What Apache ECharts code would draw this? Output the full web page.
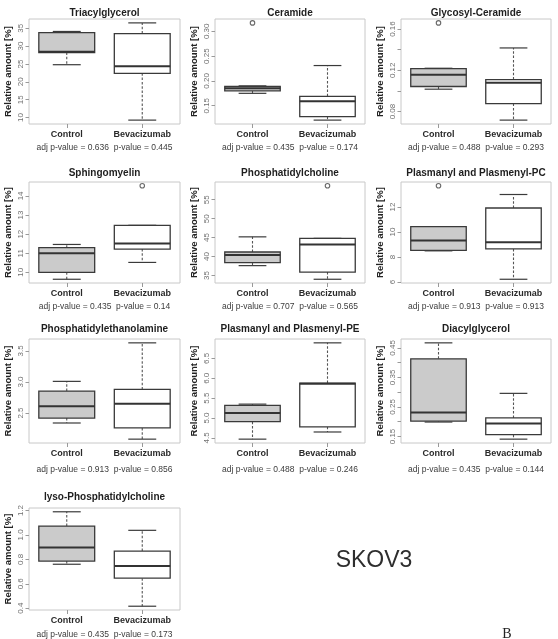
<!DOCTYPE html>
<html>
<head>
<meta charset="utf-8">
<script src="https://cdn.jsdelivr.net/npm/echarts@6/dist/echarts.min.js"></script>
<style>
html,body{margin:0;padding:0;background:#fff;}
#c{width:558px;height:639px;}
</style>
</head>
<body>
<div id="c"></div>
<script>
// ---------------- DATA ----------------
const titles = ['Triacylglycerol','Ceramide','Glycosyl-Ceramide','Sphingomyelin','Phosphatidylcholine','Plasmanyl and Plasmenyl-PC','Phosphatidylethanolamine','Plasmanyl and Plasmenyl-PE','Diacylglycerol','lyso-Phosphatidylcholine'];
const categories = ['Control','Bevacizumab'];
// [min, Q1, median, Q3, max]
const controlStats = [
  [24.8, 28.2, 28.4, 33.8, 34.1],
  [0.175, 0.180, 0.185, 0.189, 0.190],
  [0.1017, 0.1043, 0.1157, 0.1217, 0.122],
  [9.64, 10.0, 11.0, 11.29, 11.46],
  [37.6, 38.4, 40.4, 41.2, 45.2],
  [8.5, 8.53, 9.33, 10.43, 10.43],
  [2.34, 2.42, 2.61, 2.853, 3.01],
  [4.47, 4.91, 5.13, 5.32, 5.35],
  [0.199, 0.202, 0.231, 0.413, 0.467],
  [0.76, 0.786, 0.897, 1.073, 1.19]
];
const bevStats = [
  [9.3, 22.4, 24.4, 33.5, 36.5],
  [0.121, 0.128, 0.159, 0.169, 0.231],
  [0.0717, 0.0877, 0.108, 0.111, 0.1417],
  [10.52, 11.22, 11.51, 12.46, 12.46],
  [34.0, 35.9, 43.2, 44.8, 44.8],
  [6.23, 8.65, 9.18, 11.92, 13.0],
  [2.08, 2.26, 2.65, 2.88, 3.63],
  [4.65, 4.78, 5.86, 5.88, 6.89],
  [0.141, 0.156, 0.194, 0.213, 0.296],
  [0.416, 0.646, 0.746, 0.868, 1.038]
];
const controlOutliers = [[], [0.317], [0.166], [], [], [13.7], [], [], [], []];
const bevOutliers = [[], [], [], [14.53], [58.7], [], [], [], [], []];
const tickValues = [
  [10, 15, 20, 25, 30, 35],
  [0.15, 0.20, 0.25, 0.30],
  [0.08, 0.10, 0.12, 0.14, 0.16],
  [10, 11, 12, 13, 14],
  [35, 40, 45, 50, 55],
  [6, 8, 10, 12],
  [2.5, 3.0, 3.5],
  [4.5, 5.0, 5.5, 6.0, 6.5, 7.0],
  [0.15, 0.20, 0.25, 0.30, 0.35, 0.40, 0.45],
  [0.4, 0.6, 0.8, 1.0, 1.2]
];
const tickLabels = [
  ['10','15','20','25','30','35'],
  ['0.15','0.20','0.25','0.30'],
  ['0.08','0.12','0.16'],
  ['10','11','12','13','14'],
  ['35','40','45','50','55'],
  ['6','8','10','12'],
  ['2.5','3.0','3.5'],
  ['4.5','5.0','5.5','6.0','6.5','7.0'],
  ['0.15','0.25','0.35','0.45'],
  ['0.4','0.6','0.8','1.0','1.2']
];
const adjP = ['0.636','0.435','0.488','0.435','0.707','0.913','0.913','0.488','0.435','0.435'];
const pVal = ['0.445','0.174','0.293','0.14','0.565','0.913','0.856','0.246','0.144','0.173'];
const yAxisName = 'Relative amount [%]';
const cellLabel = 'SKOV3';
const panelLetter = 'B';

// ---------------- LAYOUT ----------------
const colLeft = [29, 215, 401];
const colWidth = [151, 150, 150];
const rowTop = [19, 182, 339, 508];
const rowHeight = [105, 101, 104, 102];
const rowTitleY = [13, 173, 329.5, 497];
const rowPY = [148, 307, 469.5, 635];
const FONT = '"Liberation Sans", Arial, Helvetica, sans-serif';

const chart = echarts.init(document.getElementById('c'), null, {renderer: 'canvas'});

function renderBox(params, api) {
  const idx = api.value(0);
  const mn = api.value(1), q1 = api.value(2), md = api.value(3), q3 = api.value(4), mx = api.value(5);
  const band = api.size([1, 0])[0];
  const bw = band * 0.74;
  const x = api.coord([idx, md])[0];
  const yMn = api.coord([idx, mn])[1];
  const yQ1 = api.coord([idx, q1])[1];
  const yMd = api.coord([idx, md])[1];
  const yQ3 = api.coord([idx, q3])[1];
  const yMx = api.coord([idx, mx])[1];
  const fill = idx === 0 ? '#cbcbcb' : '#ffffff';
  const stroke = '#3a3a3a';
  const sw = bw * 0.25;
  const children = [];
  if (Math.abs(yMn - yQ1) > 0.5) {
    children.push({type: 'line', shape: {x1: x, y1: yQ1, x2: x, y2: yMn}, style: {stroke: '#555', lineWidth: 1.1, lineDash: [2.5, 1.8]}});
  }
  if (Math.abs(yMx - yQ3) > 0.5) {
    children.push({type: 'line', shape: {x1: x, y1: yQ3, x2: x, y2: yMx}, style: {stroke: '#555', lineWidth: 1.1, lineDash: [2.5, 1.8]}});
  }
  children.push({type: 'line', shape: {x1: x - sw, y1: yMn, x2: x + sw, y2: yMn}, style: {stroke: stroke, lineWidth: 1.2}});
  children.push({type: 'line', shape: {x1: x - sw, y1: yMx, x2: x + sw, y2: yMx}, style: {stroke: stroke, lineWidth: 1.2}});
  children.push({type: 'rect', shape: {x: x - bw / 2, y: yQ3, width: bw, height: yQ1 - yQ3}, style: {fill: fill, stroke: stroke, lineWidth: 1.3}});
  children.push({type: 'line', shape: {x1: x - bw / 2, y1: yMd, x2: x + bw / 2, y2: yMd}, style: {stroke: '#333', lineWidth: 2}});
  return {type: 'group', children: children};
}

const grids = [], xAxes = [], yAxes = [], series = [], graphics = [];
for (let i = 0; i < titles.length; i++) {
  const col = i % 3, row = Math.floor(i / 3);
  const left = colLeft[col], top = rowTop[row], w = colWidth[col], h = rowHeight[row];
  grids.push({left: left, top: top, width: w, height: h, show: true, borderColor: '#c8c8c8', borderWidth: 1, backgroundColor: 'transparent', containLabel: false});
  xAxes.push({
    type: 'category', gridIndex: i, data: categories, boundaryGap: true,
    axisLine: {show: false},
    axisTick: {show: true, alignWithLabel: true, length: 4, lineStyle: {color: '#999'}},
    axisLabel: {show: true, margin: 6, fontFamily: FONT, fontSize: 9, fontWeight: 'bold', color: '#2a2a2a'},
    splitLine: {show: false}
  });
  const all = controlStats[i].concat(bevStats[i], controlOutliers[i], bevOutliers[i]);
  const dmin = Math.min.apply(null, all), dmax = Math.max.apply(null, all);
  const ext = (dmax - dmin) * 0.04;
  const labelVals = tickLabels[i].map(Number);
  yAxes.push({
    type: 'value', gridIndex: i, min: dmin - ext, max: dmax + ext,
    name: yAxisName, nameLocation: 'middle', nameGap: 16,
    nameTextStyle: {fontFamily: FONT, fontSize: 9.5, fontWeight: 'bold', color: '#222'},
    axisLine: {show: false},
    axisTick: {show: true, length: 3.5, lineStyle: {color: '#9a9a9a'}, customValues: tickValues[i]},
    axisLabel: {show: true, rotate: 90, margin: 4, fontFamily: FONT, fontSize: 8, color: '#707070',
      customValues: labelVals,
      formatter: function (v) {
        const k = labelVals.findIndex(function (t) { return Math.abs(t - v) < 1e-9; });
        return k >= 0 ? tickLabels[i][k] : '';
      }},
    splitLine: {show: false}
  });
  series.push({
    type: 'custom', xAxisIndex: i, yAxisIndex: i, renderItem: renderBox,
    encode: {x: 0, y: [1, 2, 3, 4, 5]},
    data: [[0].concat(controlStats[i]), [1].concat(bevStats[i])],
    silent: true, animation: false
  });
  const outl = controlOutliers[i].map(function (v) { return [0, v]; }).concat(bevOutliers[i].map(function (v) { return [1, v]; }));
  series.push({
    type: 'scatter', xAxisIndex: i, yAxisIndex: i, data: outl,
    symbol: 'circle', symbolSize: 4.5,
    itemStyle: {color: '#fff', borderColor: '#444', borderWidth: 1.1},
    silent: true, animation: false
  });
  const cx = left + w / 2;
  graphics.push({type: 'text', x: cx, y: rowTitleY[row], silent: true,
    style: {text: titles[i], font: 'bold 10px ' + FONT, fill: '#1e1e1e', textAlign: 'center', textVerticalAlign: 'middle', verticalAlign: 'middle'}});
  graphics.push({type: 'text', x: cx, y: rowPY[row], silent: true,
    style: {text: 'adj p-value = ' + adjP[i] + '  p-value = ' + pVal[i], font: '8.5px ' + FONT, fill: '#3c3c3c', textAlign: 'center', textVerticalAlign: 'middle', verticalAlign: 'middle'}});
}
graphics.push({type: 'text', x: 374, y: 561, silent: true,
  style: {text: cellLabel, font: '23px ' + FONT, fill: '#2e2e2e', textAlign: 'center', textVerticalAlign: 'middle', verticalAlign: 'middle'}});
graphics.push({type: 'text', x: 507, y: 634, silent: true,
  style: {text: panelLetter, font: '14px "Liberation Serif", "Times New Roman", serif', fill: '#222', textAlign: 'center', textVerticalAlign: 'middle', verticalAlign: 'middle'}});

chart.setOption({
  animation: false,
  backgroundColor: '#ffffff',
  grid: grids,
  xAxis: xAxes,
  yAxis: yAxes,
  series: series,
  graphic: graphics
});
</script>
</body>
</html>
